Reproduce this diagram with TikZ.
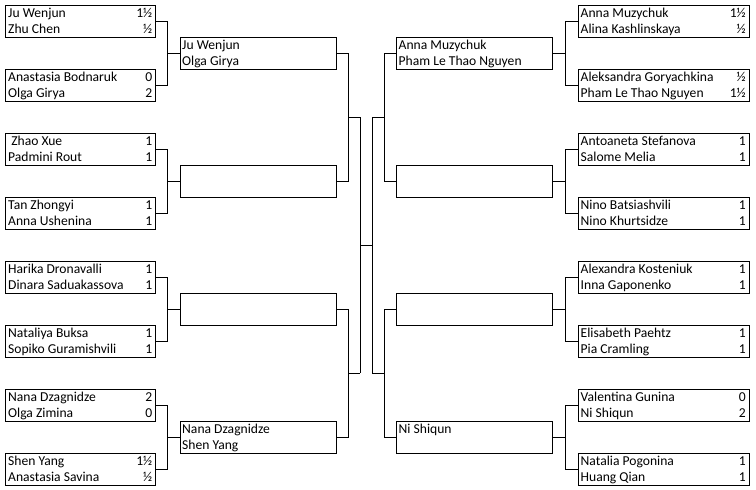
\documentclass[tikz,border=0pt]{standalone}
\usepackage{fontspec}
\setmainfont{Carlito}
\usetikzlibrary{calc}
\tikzset{
  box/.style={draw=black, line width=1pt, rectangle, minimum height=32pt, inner sep=0pt, fill=white},
  txt/.style={inner sep=0pt, text=black, font=\fontsize{13.6}{16}\selectfont},
  conn/.style={draw=black, line width=1pt},
}
% name, cx, cy, width, name1, score1, name2, score2
\newcommand\rbox[8]{%
  \node[box, minimum width=#4pt] (#1) at (#2,#3) {};
  \node[txt, anchor=base west] (#1na) at ($(#1.north west)+(3,13)$) {#5};
  \node[txt, anchor=base east] (#1sa) at ($(#1.north east)+(-3.5,13)$) {#6};
  \node[txt, anchor=base west] (#1nb) at ($(#1.north west)+(3,29)$) {#7};
  \node[txt, anchor=base east] (#1sb) at ($(#1.north east)+(-3.5,29)$) {#8};
}
% name, cx, cy, width, name1, name2
\newcommand\qbox[6]{%
  \node[box, minimum width=#4pt] (#1) at (#2,#3) {};
  \node[txt, anchor=base west] (#1na) at ($(#1.north west)+(2.5,13)$) {#5};
  \node[txt, anchor=base west] (#1nb) at ($(#1.north west)+(2.5,29)$) {#6};
}
\begin{document}
\begin{tikzpicture}[x=1pt, y=-1pt]
\fill[white] (0,0) rectangle (756,490);
\useasboundingbox (0,0) rectangle (756,490);
% vertical line positions
\coordinate (xa) at (167,0);
\coordinate (xb) at (348,0);
\coordinate (xc) at (384,0);
\coordinate (xd) at (565,0);
% left first round
\rbox{L1}{80.5}{21}{150}{Ju Wenjun}{1½}{Zhu Chen}{½}
\rbox{L2}{80.5}{85}{150}{Anastasia Bodnaruk}{0}{Olga Girya}{2}
\rbox{L3}{80.5}{149}{150}{\ Zhao Xue}{1}{Padmini Rout}{1}
\rbox{L4}{80.5}{213}{150}{Tan Zhongyi}{1}{Anna Ushenina}{1}
\rbox{L5}{80.5}{277}{150}{Harika Dronavalli}{1}{Dinara Saduakassova}{1}
\rbox{L6}{80.5}{341}{150}{Nataliya Buksa}{1}{Sopiko Guramishvili}{1}
\rbox{L7}{80.5}{405}{150}{Nana Dzagnidze}{2}{Olga Zimina}{0}
\rbox{L8}{80.5}{469}{150}{Shen Yang}{1½}{Anastasia Savina}{½}
% left quarterfinals
\qbox{Q1}{258}{53}{156}{Ju Wenjun}{Olga Girya}
\qbox{Q2}{258}{181}{156}{}{}
\qbox{Q3}{258}{309}{156}{}{}
\qbox{Q4}{258}{437}{156}{Nana Dzagnidze}{Shen Yang}
% right first round
\rbox{R1}{663.5}{21}{171}{Anna Muzychuk}{1½}{Alina Kashlinskaya}{½}
\rbox{R2}{663.5}{85}{171}{Aleksandra Goryachkina}{½}{Pham Le Thao Nguyen}{1½}
\rbox{R3}{663.5}{149}{171}{Antoaneta Stefanova}{1}{Salome Melia}{1}
\rbox{R4}{663.5}{213}{171}{Nino Batsiashvili}{1}{Nino Khurtsidze}{1}
\rbox{R5}{663.5}{277}{171}{Alexandra Kosteniuk}{1}{Inna Gaponenko}{1}
\rbox{R6}{663.5}{341}{171}{Elisabeth Paehtz}{1}{Pia Cramling}{1}
\rbox{R7}{663.5}{405}{171}{Valentina Gunina}{0}{Ni Shiqun}{2}
\rbox{R8}{663.5}{469}{171}{Natalia Pogonina}{1}{Huang Qian}{1}
% right quarterfinals
\qbox{P1}{474.5}{53}{156}{Anna Muzychuk}{Pham Le Thao Nguyen}
\qbox{P2}{474.5}{181}{156}{}{}
\qbox{P3}{474.5}{309}{156}{}{}
\qbox{P4}{474.5}{437}{156}{Ni Shiqun}{}
% semifinal junction coordinates
\coordinate (SL1) at (360,117);
\coordinate (SL2) at (360,373);
\coordinate (SR1) at (372,117);
\coordinate (SR2) at (372,373);
\coordinate (FL) at (360,245);
\coordinate (FR) at (372,245);
% left R1 -> QF connectors
\foreach \a/\b/\q in {L1/L2/Q1, L3/L4/Q2, L5/L6/Q3, L7/L8/Q4}{
  \draw[conn] (\a.east) -| (\q.west -| xa) -- (\q.west);
  \draw[conn] (\b.east) -| (\q.west -| xa);
}
% right R1 -> QF connectors
\foreach \a/\b/\q in {R1/R2/P1, R3/R4/P2, R5/R6/P3, R7/R8/P4}{
  \draw[conn] (\a.west) -| (\q.east -| xd) -- (\q.east);
  \draw[conn] (\b.west) -| (\q.east -| xd);
}
% left QF -> SF
\draw[conn] (Q1.east) -| (SL1 -| xb) -- (SL1);
\draw[conn] (Q2.east) -| (SL1 -| xb);
\draw[conn] (Q3.east) -| (SL2 -| xb) -- (SL2);
\draw[conn] (Q4.east) -| (SL2 -| xb);
\draw[conn] (SL1) -- (SL2);
% right QF -> SF
\draw[conn] (P1.west) -| (SR1 -| xc) -- (SR1);
\draw[conn] (P2.west) -| (SR1 -| xc);
\draw[conn] (P3.west) -| (SR2 -| xc) -- (SR2);
\draw[conn] (P4.west) -| (SR2 -| xc);
\draw[conn] (SR1) -- (SR2);
% final
\draw[conn] (FL) -- (FR);
\end{tikzpicture}
\end{document}
